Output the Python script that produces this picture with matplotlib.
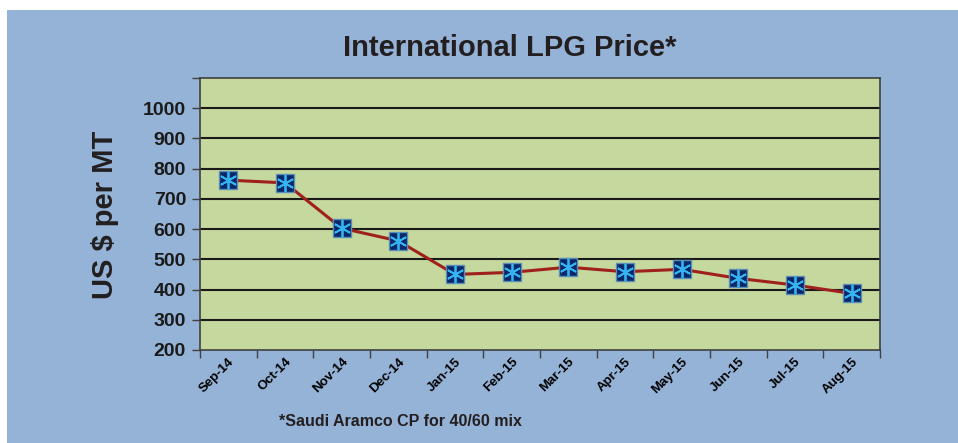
import matplotlib
matplotlib.use("Agg")
import matplotlib.pyplot as plt
from matplotlib.patches import Rectangle
import numpy as np

months = ["Sep-14", "Oct-14", "Nov-14", "Dec-14", "Jan-15", "Feb-15",
          "Mar-15", "Apr-15", "May-15", "Jun-15", "Jul-15", "Aug-15"]
price = [762, 753, 603, 561, 450, 457, 474, 459, 467, 437, 415, 387]
yticks = [200, 300, 400, 500, 600, 700, 800, 900, 1000]

base = "Liberation Sans"

fig = plt.figure(figsize=(9.58, 4.43), dpi=100)
fig.patch.set_facecolor("#95b3d7")
fig.patches.append(Rectangle((0, 1 - 10/443), 1, 10/443, transform=fig.transFigure,
                             facecolor="white", edgecolor="none", zorder=-10))
fig.patches.append(Rectangle((0, 0), 7/958, 1, transform=fig.transFigure,
                             facecolor="white", edgecolor="none", zorder=-10))

ax = fig.add_axes([200/958, 1 - 350/443, 680/958, 272/443])
ax.set_facecolor("#c5d89d")
x = np.arange(len(months))
ax.set_xlim(-0.5, len(months) - 0.5)
ax.set_ylim(200, 1100)

for v in yticks[1:]:
    ax.axhline(v, color="#1a1a1a", lw=1.5, zorder=1)

ax.plot(x, price, color="#a0201c", lw=2.2, zorder=3)
ax.plot(x, price, ls="none", marker="s", ms=13, mfc="#08286a", mec="#5b8fb8", mew=1, zorder=4)
ax.plot(x, price, ls="none", marker=(6, 2, 0), ms=12.5, mec="#33b4f0", mew=1.3, zorder=5)

ax.set_yticks(yticks + [1100])
ax.set_yticklabels([str(v) for v in yticks] + [""], fontfamily=base, fontweight="bold", fontsize=14)
ax.set_xticks(x)
ax.set_xticklabels(months, rotation=45, ha="right", rotation_mode="anchor",
                   fontfamily=base, fontweight="bold", fontsize=9.5)
ax.set_xticks(np.arange(-0.5, len(months)), minor=True)
ax.tick_params(axis="x", which="major", length=0, pad=4)
ax.tick_params(axis="x", which="minor", length=6, width=1, color="#404040")
ax.tick_params(axis="y", length=6, width=1, color="#404040", pad=4, labelcolor="#1a1a1a")
for s in ax.spines.values():
    s.set_color("#404040")
    s.set_linewidth(1.2)

fig.text(510/958, 1 - 48/443, "International LPG Price*", ha="center", va="center",
         fontfamily=base, fontweight="bold", fontsize=21, color="#231f20")
fig.text(105/958, 1 - 215/443, "US $ per MT", ha="center", va="center", rotation=90,
         fontfamily=base, fontweight="bold", fontsize=21, color="#231f20")
fig.text(400/958, 1 - 421/443, "*Saudi Aramco CP for 40/60 mix", ha="center", va="center",
         fontfamily=base, fontweight="bold", fontsize=11.5, color="#231f20")

fig.savefig("out.png", dpi=100, facecolor=fig.get_facecolor())
